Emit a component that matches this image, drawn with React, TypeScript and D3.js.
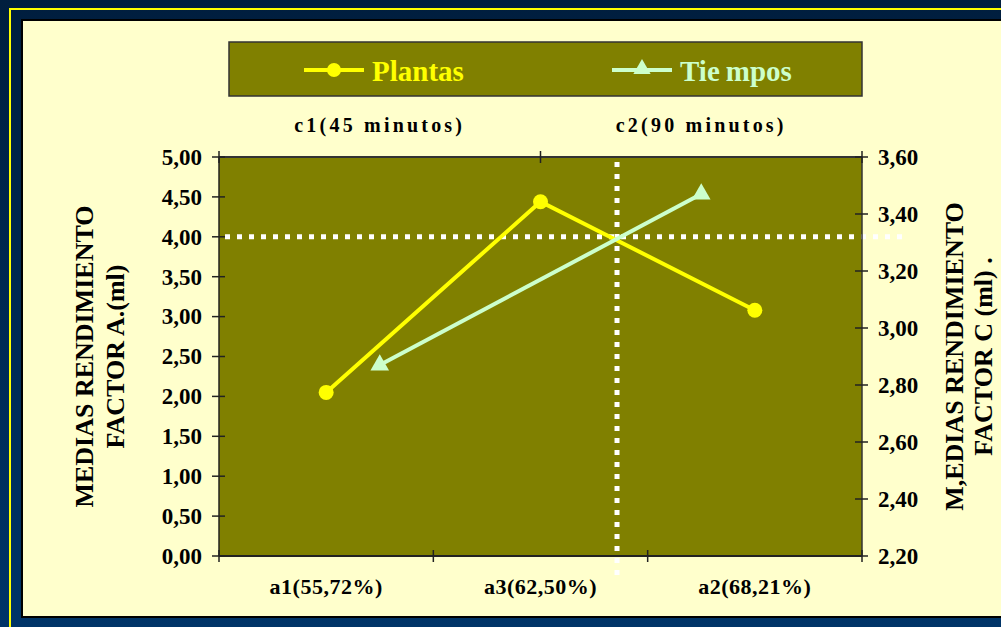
import React from "react";
import * as d3 from "d3";

const categories = ["a1(55,72%)", "a3(62,50%)", "a2(68,21%)"];
const plantasValues = [2.05, 4.44, 3.08];
const timeCategories = ["c1(45 minutos)", "c2(90 minutos)"];
const tiemposValues = [2.87, 3.47];
const leftTicks = [0, 0.5, 1, 1.5, 2, 2.5, 3, 3.5, 4, 4.5, 5];
const rightTicks = [2.2, 2.4, 2.6, 2.8, 3.0, 3.2, 3.4, 3.6];
const refLevel = 4.0;
const refCategoryIndex = 1.857;

const W = 1001;
const H = 627;
const plot = { left: 219, right: 862, top: 157, bottom: 556 };
const FONT = "'Liberation Serif', 'Times New Roman', serif";

export default function App() {
  const x = d3.scaleBand().domain(categories).range([plot.left, plot.right]);
  const xIdx = d3.scaleLinear().domain([0, categories.length]).range([plot.left, plot.right]);
  const x2 = d3.scaleBand().domain(timeCategories).range([plot.left, plot.right]);
  const yL = d3.scaleLinear().domain([0, 5]).range([plot.bottom, plot.top]);
  const yR = d3.scaleLinear().domain([2.2, 3.6]).range([plot.bottom, plot.top]);
  const fmt = (v: number) => v.toFixed(2).replace(".", ",");

  const plantasPts = categories.map((c, i) => [x(c)! + x.bandwidth() / 2, yL(plantasValues[i])] as [number, number]);
  const tiemposPts = timeCategories.map((c, i) => [x2(c)! + x2.bandwidth() / 2, yR(tiemposValues[i])] as [number, number]);
  const line = d3.line();
  const tri = d3.symbol().type(d3.symbolTriangle).size(150)()!;
  const triSmall = d3.symbol().type(d3.symbolTriangle).size(130)()!;

  const bottomTicks = [0, 1, 2, 3].map((i) => xIdx(i));
  const topTicks = [plot.left, x2(timeCategories[1])!, plot.right];
  const midY = (plot.top + plot.bottom) / 2;

  return (
    <div style={{ position: "absolute", left: 0, top: 0 }}>
      <svg width={W} height={H} style={{ display: "block" }}>
        <defs>
          <linearGradient id="navy" x1="0" y1="0" x2="0" y2="1">
            <stop offset="0" stopColor="#001e3e" />
            <stop offset="1" stopColor="#003468" />
          </linearGradient>
        </defs>
        <rect x={0} y={0} width={W} height={H} fill="url(#navy)" />
        <rect x={10} y={9} width={1100} height={700} fill="none" stroke="#ffff00" strokeWidth={2} />
        <rect x={22} y={20} width={1100} height={597} fill="#ffffcc" stroke="#000" strokeWidth={2} />

        {/* Legend */}
        <rect x={229} y={42} width={633} height={54} fill="#808000" stroke="#333" strokeWidth={1.5} />
        <line x1={304} x2={364} y1={70} y2={70} stroke="#ffff00" strokeWidth={4} />
        <circle cx={334} cy={70} r={7} fill="#ffff00" />
        <text x={372} y={81} fontFamily={FONT} fontWeight="bold" fontSize={29} fill="#ffff00">Plantas</text>
        <line x1={612} x2={672} y1={70} y2={70} stroke="#ccffcc" strokeWidth={4} />
        <path d={triSmall} transform="translate(642,69)" fill="#ccffcc" />
        <text x={680} y={81} fontFamily={FONT} fontWeight="bold" fontSize={29} fill="#ccffcc">Tie<tspan dx={6}>mpos</tspan></text>

        {/* Plot area */}
        <rect x={plot.left} y={plot.top} width={plot.right - plot.left} height={plot.bottom - plot.top} fill="#808000" />

        {/* Reference dotted lines */}
        <line x1={plot.left + 6} x2={plot.right + 40} y1={yL(refLevel)} y2={yL(refLevel)} stroke="#fff" strokeWidth={5} strokeDasharray="5 7" />
        <line x1={xIdx(refCategoryIndex)} x2={xIdx(refCategoryIndex)} y1={plot.top + 5} y2={plot.bottom + 26} stroke="#fff" strokeWidth={5} strokeDasharray="5 7" />

        {/* Axes lines */}
        <line x1={plot.left} x2={plot.right} y1={plot.top} y2={plot.top} stroke="#333" strokeWidth={2} />
        <line x1={plot.left} x2={plot.right} y1={plot.bottom} y2={plot.bottom} stroke="#222" strokeWidth={2} />
        <line x1={plot.left} x2={plot.left} y1={plot.top} y2={plot.bottom} stroke="#222" strokeWidth={1.5} />
        <line x1={plot.right} x2={plot.right} y1={plot.top} y2={plot.bottom} stroke="#333" strokeWidth={1.5} />

        {/* Left ticks */}
        {leftTicks.map((t) => (
          <g key={"l" + t}>
            <line x1={plot.left - 7} x2={plot.left + 6} y1={yL(t)} y2={yL(t)} stroke="#222" strokeWidth={1.5} />
            <text x={202} y={yL(t)} dy="0.34em" textAnchor="end" fontFamily={FONT} fontWeight="bold" fontSize={23} fill="#000">{fmt(t)}</text>
          </g>
        ))}
        {/* Right ticks */}
        {rightTicks.map((t) => (
          <g key={"r" + t}>
            <line x1={plot.right - 7} x2={plot.right + 6} y1={yR(t)} y2={yR(t)} stroke="#222" strokeWidth={1.5} />
            <text x={878} y={yR(t)} dy="0.34em" textAnchor="start" fontFamily={FONT} fontWeight="bold" fontSize={23} fill="#000">{fmt(t)}</text>
          </g>
        ))}
        {/* Bottom ticks */}
        {bottomTicks.map((px, i) => (
          <line key={"b" + i} x1={px} x2={px} y1={plot.bottom - 6} y2={plot.bottom + 6} stroke="#222" strokeWidth={1.5} />
        ))}
        {categories.map((c) => (
          <text key={c} x={x(c)! + x.bandwidth() / 2} y={594} textAnchor="middle" fontFamily={FONT} fontWeight="bold" fontSize={22} letterSpacing={0.5} fill="#000">{c}</text>
        ))}
        {/* Top ticks */}
        {topTicks.map((px, i) => (
          <line key={"t" + i} x1={px} x2={px} y1={plot.top - 6} y2={plot.top + 6} stroke="#222" strokeWidth={1.5} />
        ))}
        {timeCategories.map((c) => (
          <text key={c} x={x2(c)! + x2.bandwidth() / 2} y={132} textAnchor="middle" fontFamily={FONT} fontWeight="bold" fontSize={20} letterSpacing={3.2} fill="#000">{c}</text>
        ))}

        {/* Series */}
        <path d={line(plantasPts)!} fill="none" stroke="#ffff00" strokeWidth={4} />
        {plantasPts.map((p, i) => (
          <circle key={"pc" + i} cx={p[0]} cy={p[1]} r={7.5} fill="#ffff00" />
        ))}
        <path d={line(tiemposPts)!} fill="none" stroke="#ccffcc" strokeWidth={4} />
        {tiemposPts.map((p, i) => (
          <path key={"tp" + i} d={tri} transform={`translate(${p[0]},${p[1]})`} fill="#ccffcc" />
        ))}

        {/* Axis titles */}
        <text transform={`translate(84,${midY}) rotate(-90)`} textAnchor="middle" dy="0.35em" fontFamily={FONT} fontWeight="bold" fontSize={26} fill="#000">MEDIAS RENDIMIENTO</text>
        <text transform={`translate(115,${midY}) rotate(-90)`} textAnchor="middle" dy="0.35em" fontFamily={FONT} fontWeight="bold" fontSize={26} fill="#000">FACTOR A.(ml)</text>
        <text transform={`translate(954,${midY}) rotate(-90)`} textAnchor="middle" dy="0.35em" fontFamily={FONT} fontWeight="bold" fontSize={26} fill="#000">M,EDIAS RENDIMIENTO</text>
        <text transform={`translate(983,${midY}) rotate(-90)`} textAnchor="middle" dy="0.35em" fontFamily={FONT} fontWeight="bold" fontSize={26} fill="#000">FACTOR C (ml) .</text>
      </svg>
    </div>
  );
}
